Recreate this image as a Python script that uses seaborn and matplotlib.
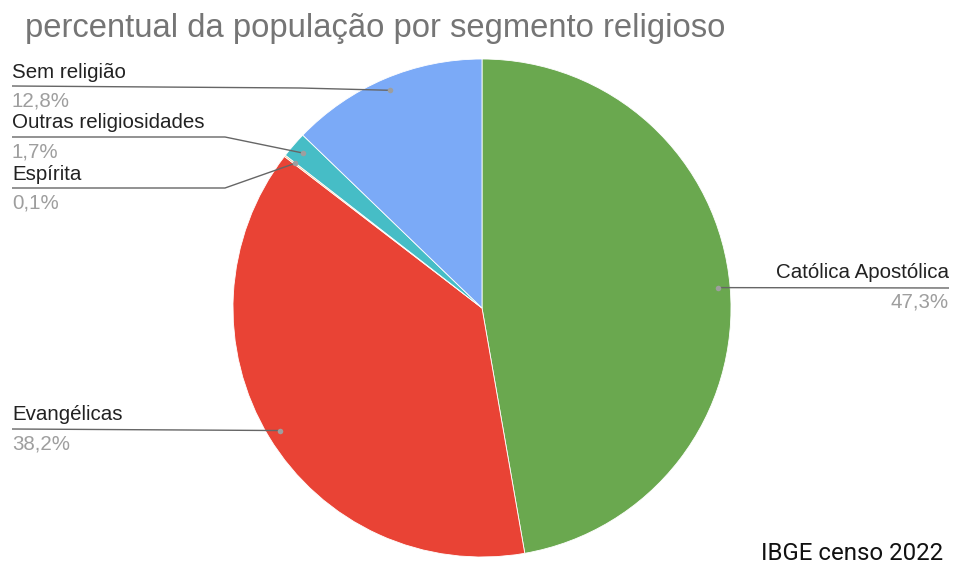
import matplotlib
matplotlib.use("Agg")
import matplotlib.pyplot as plt
import seaborn as sns
import numpy as np

categories = ["Católica Apostólica", "Evangélicas", "Espírita", "Outras religiosidades", "Sem religião"]
values = [47.3, 38.2, 0.1, 1.7, 12.8]
value_labels = ["47,3%", "38,2%", "0,1%", "1,7%", "12,8%"]
colors = ["#6aa84f", "#e94335", "#f6b26b", "#46bdc6", "#7baaf7"]
title = "percentual da população por segmento religioso"
source = "IBGE censo 2022"

sns.set_theme(style="white")
plt.rcParams['font.family'] = ['Liberation Sans', 'DejaVu Sans']

W, H = 954, 568
fig = plt.figure(figsize=(W / 100, H / 100), dpi=100)
fig.patch.set_facecolor("white")

# pie axes: centre (482,308), radius 249 px
cx, cy, r = 482, 308, 249
ax = fig.add_axes([(cx - r) / W, (H - (cy + r)) / H, 2 * r / W, 2 * r / H])
wedges, _ = ax.pie(values, colors=colors, startangle=90, counterclock=False,
                   radius=1.0, wedgeprops=dict(edgecolor="white", linewidth=0.6))
ax.set_xlim(-1, 1)
ax.set_ylim(-1, 1)
ax.set_aspect("equal")
ax.axis("off")

# overlay axes in pixel coordinates
ov = fig.add_axes([0, 0, 1, 1], zorder=5)
ov.set_xlim(0, W)
ov.set_ylim(H, 0)
ov.axis("off")
ov.patch.set_alpha(0)

def anchor(w):
    mid = np.deg2rad((w.theta1 + w.theta2) / 2)
    p = (0.95 * np.cos(mid), 0.95 * np.sin(mid))
    disp = ax.transData.transform(p)
    return ov.transData.inverted().transform(disp)

layout = {
    "Católica Apostólica": dict(x=949, ny=273, py=302, ha="right", path=[(949, 288)]),
    "Evangélicas": dict(x=12, ny=415, py=444, ha="left", path=[(12, 429)]),
    "Espírita": dict(x=12, ny=175, py=203, ha="left", path=[(12, 188), (225, 188)]),
    "Outras religiosidades": dict(x=12, ny=123, py=152, ha="left", path=[(12, 137), (225, 137)]),
    "Sem religião": dict(x=12, ny=72, py=101, ha="left", path=[(12, 86), (300, 88)]),
}

for w, cat, lab in zip(wedges, categories, value_labels):
    L = layout[cat]
    ax_pt = anchor(w)
    pts = L["path"] + [tuple(ax_pt)]
    xs = [p[0] for p in pts]
    ys = [p[1] for p in pts]
    ov.plot(xs, ys, color="#666666", lw=1.0, solid_capstyle="butt")
    ov.plot([ax_pt[0]], [ax_pt[1]], "o", color="#9e9e9e", ms=4, mec="none")
    ov.text(L["x"], L["ny"], cat, ha=L["ha"], va="center", fontsize=14.8, color="#222222")
    ov.text(L["x"], L["py"], lab, ha=L["ha"], va="center", fontsize=14.8, color="#9e9e9e")

ov.text(25, 29, title, ha="left", va="center", fontsize=23.6, color="#757575")
ov.text(943, 553, source, ha="right", va="center", fontsize=17.3, color="#111111",
        family=["Roboto", "DejaVu Sans"], fontweight="normal")

fig.savefig("out.png", dpi=100, facecolor="white")
